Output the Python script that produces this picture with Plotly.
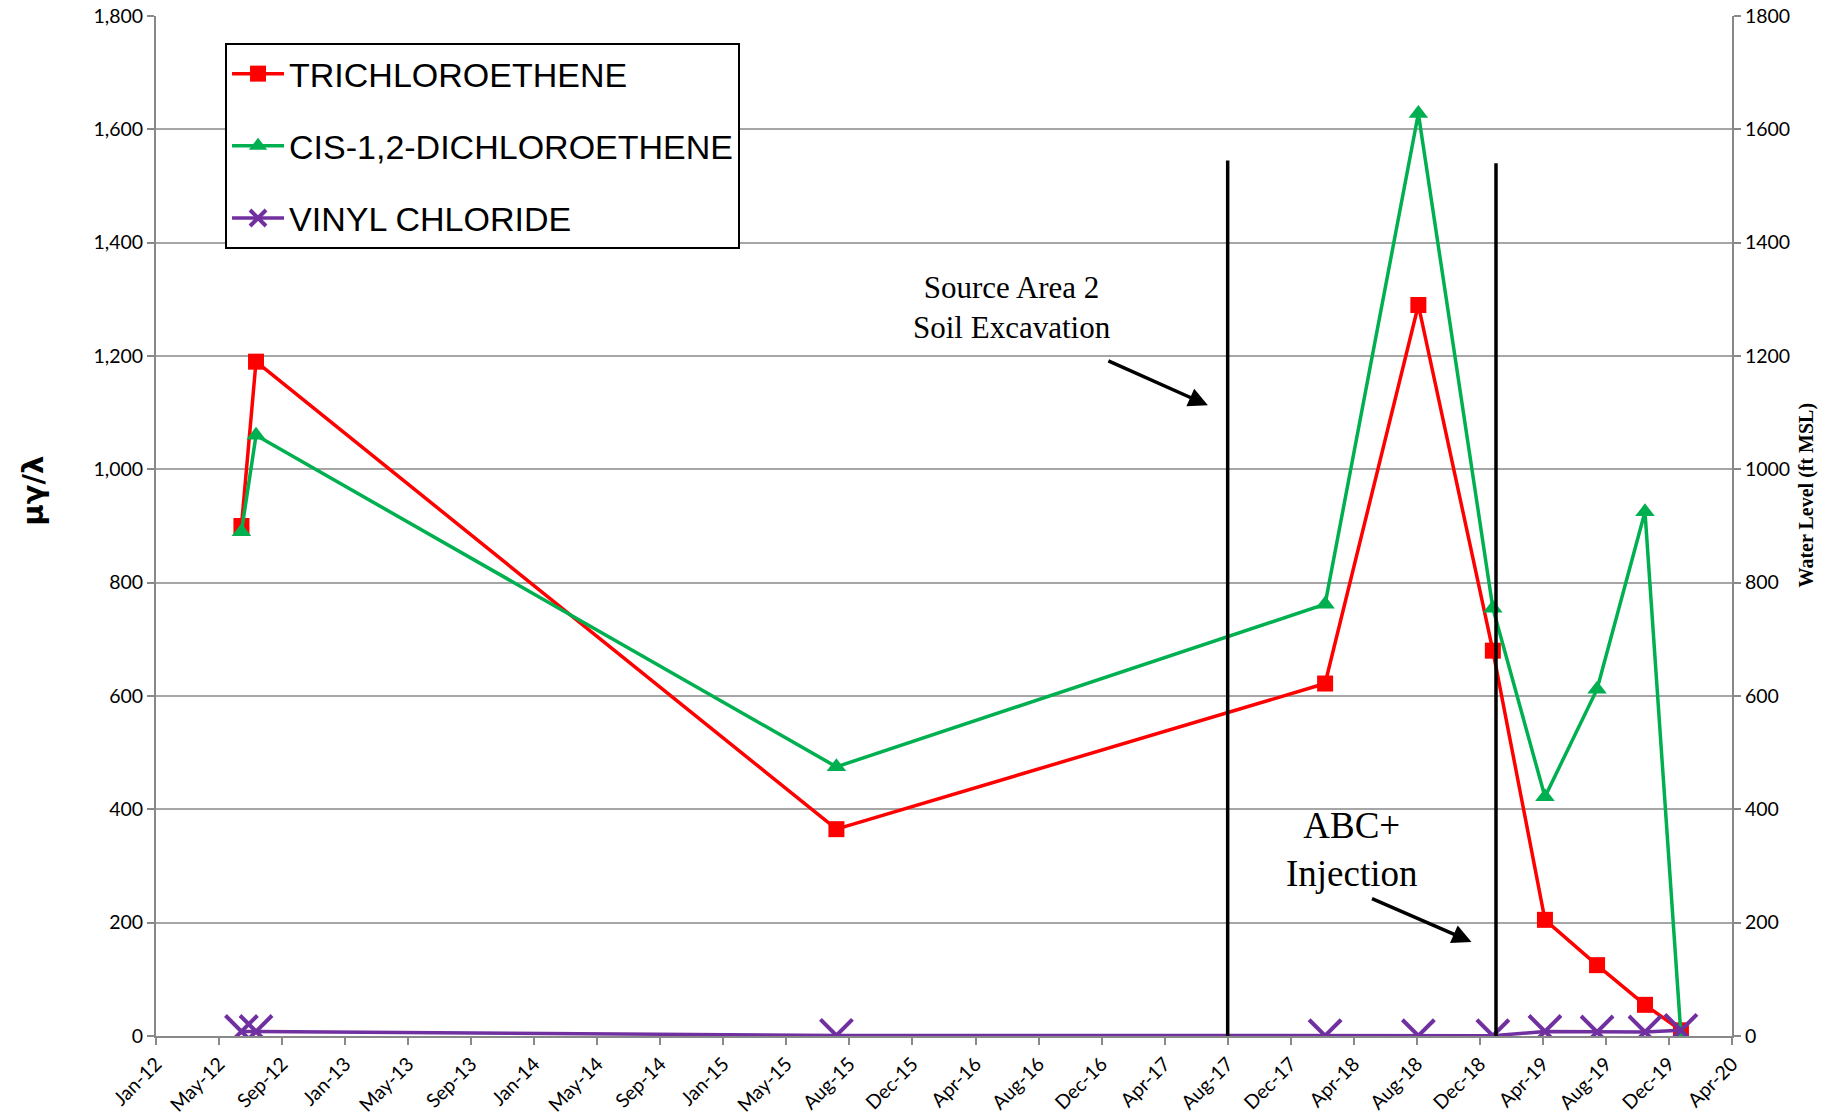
import plotly.graph_objects as go

# Sampling dates and concentrations (ug/L)
sample_dates = ["2012-06-20", "2012-07-18", "2015-08-06", "2018-03-01", "2018-08-27",
                "2019-01-17", "2019-04-27", "2019-08-05", "2019-11-05", "2020-01-13"]
tce = [900, 1190, 365, 622, 1290, 680, 205, 125, 55, 10]
cis_dce = [890, 1060, 475, 762, 1628, 755, 422, 612, 925, 2]
vinyl_chloride = [8, 8, 1, 0.5, 0.5, 0.5, 8, 7, 7, 10]

# Remediation events (vertical markers)
event_dates = ["2017-08-26", "2019-01-23"]
event_tops = [1545, 1540]

GRID = "#A6A6A6"
AXIS = "#898989"
TICKFONT = dict(family="Lato", size=19.5, color="#000000")

fig = go.Figure()

fig.add_trace(go.Scatter(
    x=sample_dates, y=tce, name="TRICHLOROETHENE", mode="lines+markers",
    line=dict(color="#FF0000", width=3.5),
    marker=dict(symbol="square", size=16, color="#FF0000"),
    legendgroup="a"))
fig.add_trace(go.Scatter(
    x=sample_dates, y=cis_dce, name="CIS-1,2-DICHLOROETHENE", mode="lines+markers",
    line=dict(color="#00B050", width=3.5),
    marker=dict(symbol="triangle-up", size=17, color="#00B050"),
    legendgroup="b"))
fig.add_trace(go.Scatter(
    x=sample_dates, y=vinyl_chloride, name="VINYL CHLORIDE", mode="lines+markers",
    line=dict(color="#7030A0", width=3.5),
    marker=dict(symbol="x-thin-open", size=32, color="#7030A0",
                line=dict(color="#7030A0", width=4)),
    legendgroup="c"))

for d, top in zip(event_dates, event_tops):
    fig.add_trace(go.Scatter(
        x=[d, d], y=[0, top], mode="lines", showlegend=False, hoverinfo="skip",
        line=dict(color="#000000", width=3.5)))

# invisible trace so the right-hand axis is drawn
fig.add_trace(go.Scatter(x=[sample_dates[0]], y=[0], yaxis="y2", mode="markers",
                         marker=dict(opacity=0), showlegend=False, hoverinfo="skip"))

fig.update_layout(
    width=1821, height=1115,
    margin=dict(l=156, r=89, t=16, b=79, autoexpand=False),
    plot_bgcolor="white", paper_bgcolor="white",
    showlegend=True,
    legend=dict(
        x=0.0438, y=0.9735, xanchor="left", yanchor="top",
        bgcolor="white", bordercolor="#000000", borderwidth=2,
        font=dict(family="Liberation Sans", size=34, color="#000000"),
        tracegroupgap=25, traceorder="grouped", itemwidth=52),
    xaxis=dict(
        type="date", range=["2012-01-08", "2020-04-20"], automargin=False,
        tick0="2012-01-08", dtick=121 * 86400000, tickformat="%b-%y",
        tickangle=-45, tickfont=TICKFONT,
        showgrid=False, showline=True, linecolor=AXIS, linewidth=2,
        ticks="outside", ticklen=7, tickwidth=2, tickcolor=AXIS, zeroline=False),
    yaxis=dict(
        range=[0, 1800], dtick=200, tickformat=",d", tickfont=TICKFONT,
        automargin=False,
        showgrid=True, gridcolor=GRID, gridwidth=2,
        showline=True, linecolor=AXIS, linewidth=2,
        ticks="outside", ticklen=7, tickwidth=2, tickcolor=AXIS, zeroline=False),
    yaxis2=dict(
        overlaying="y", side="right", range=[0, 1800], dtick=200, tickformat="d",
        tickfont=TICKFONT, showgrid=False, automargin=False,
        showline=True, linecolor=AXIS, linewidth=2,
        ticks="outside", ticklen=7, tickwidth=2, tickcolor=AXIS, zeroline=False),
)

# axis titles
fig.add_annotation(text="<b>μγ/λ</b>", xref="paper", yref="paper",
                   x=-0.0778, y=0.535, xanchor="center", yanchor="middle",
                   textangle=-90, showarrow=False,
                   font=dict(family="DejaVu Sans", size=29, color="#000000"))
fig.add_annotation(text="<b>Water Level (ft MSL)</b>", xref="paper", yref="paper",
                   x=1.0470, y=0.53, xanchor="center", yanchor="middle",
                   textangle=-90, showarrow=False,
                   font=dict(family="Liberation Serif", size=20, color="#000000"))

# event labels
fig.add_annotation(text="Source Area 2<br>Soil Excavation", x="2016-07-08", y=1286,
                   showarrow=False,
                   font=dict(family="Liberation Serif", size=31, color="#000000"))
fig.add_annotation(x="2017-07-19", y=1113, ax=-101, ay=-45, text="",
                   showarrow=True, arrowhead=2, arrowsize=1.1, arrowwidth=3.5,
                   arrowcolor="#000000")
fig.add_annotation(text="ABC+<br>Injection", x="2018-04-22", y=330, showarrow=False,
                   font=dict(family="Liberation Serif", size=37, color="#000000"))
fig.add_annotation(x="2018-12-07", y=166, ax=-101, ay=-44, text="",
                   showarrow=True, arrowhead=2, arrowsize=1.1, arrowwidth=3.5,
                   arrowcolor="#000000")

fig.write_html("out.html")
